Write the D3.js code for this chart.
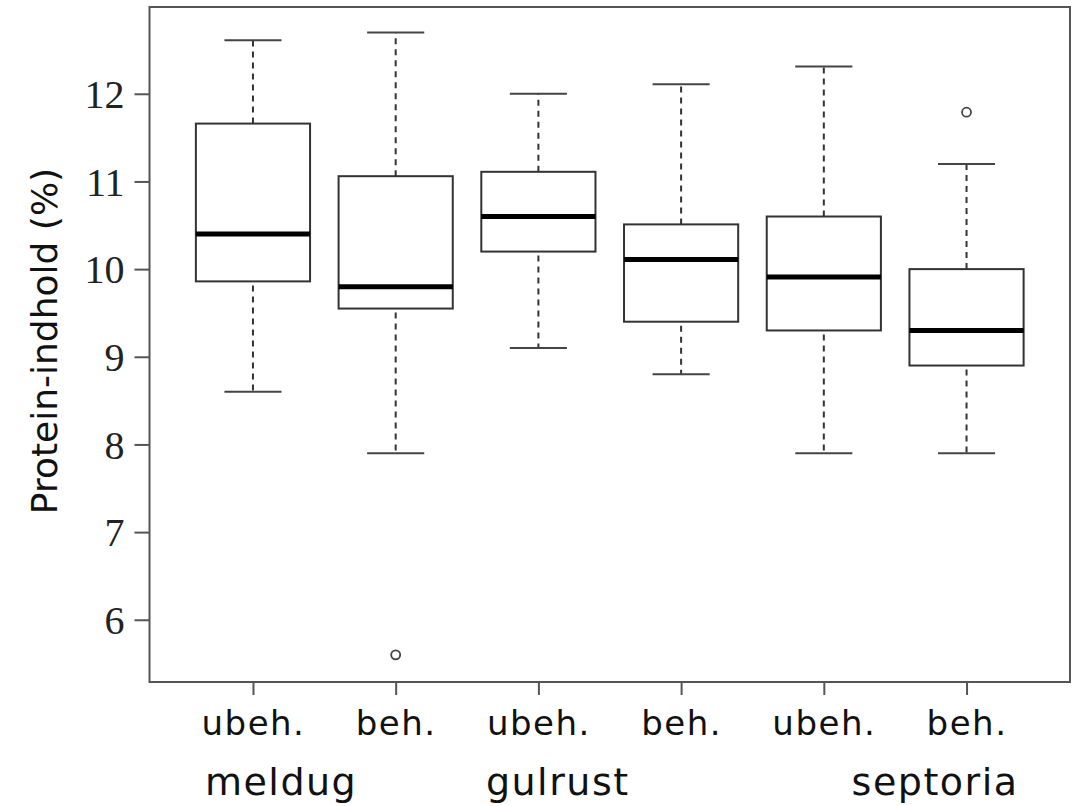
<!DOCTYPE html>
<html>
<head>
<meta charset="utf-8">
<script src="https://cdn.jsdelivr.net/npm/d3@7"></script>
<style>
  body { margin: 0; background: #fff; }
  svg { display: block; }
</style>
</head>
<body>
<div id="chart"></div>
<script>
var treatments = ['ubeh.', 'beh.', 'ubeh.', 'beh.', 'ubeh.', 'beh.'],
  diseases = ['meldug', 'gulrust', 'septoria'],
  whiskerLow = [8.60, 7.90, 9.10, 8.80, 7.90, 7.90],
  q1 = [9.86, 9.55, 10.20, 9.40, 9.30, 8.90],
  medians = [10.40, 9.80, 10.60, 10.11, 9.91, 9.30],
  q3 = [11.66, 11.06, 11.11, 10.51, 10.60, 10.00],
  whiskerHigh = [12.61, 12.70, 12.00, 12.11, 12.31, 11.20],
  outliers = [[], [5.60], [], [], [], [11.79]],
  yTicks = [6, 7, 8, 9, 10, 11, 12]

var width = 1071, height = 806,
  plotL = 149.5, plotR = 1070, plotT = 7, plotB = 682

var svg = d3.select("#chart").append("svg")
  .attr("width", width).attr("height", height)

var idx = d3.range(treatments.length)

var x = d3.scalePoint()
  .domain(idx)
  .range([plotL, plotR])
  .padding(0.725)

var y = d3.scaleLinear()
  .domain([5.29, 12.99])
  .range([plotB, plotT])

var boxW = x.step() * 0.8,
  capW = boxW / 2

// frame
svg.append("rect")
  .attr("x", plotL).attr("y", plotT)
  .attr("width", plotR - plotL).attr("height", plotB - plotT)
  .attr("fill", "none").attr("stroke", "#555").attr("stroke-width", 2)

// y axis
var yAxis = svg.append("g")
  .attr("transform", `translate(${plotL},0)`)
  .call(d3.axisLeft(y).tickValues(yTicks).tickSize(15).tickPadding(10).tickFormat(d3.format("d")))
yAxis.select(".domain").remove()
yAxis.selectAll("line").attr("stroke", "#555").attr("stroke-width", 2)
yAxis.selectAll("text")
  .attr("font-family", "'Liberation Serif', 'Times New Roman', serif")
  .attr("font-size", 40).attr("fill", "#222")
  .attr("dy", "0.34em")

// x axis
var xAxis = svg.append("g")
  .attr("transform", `translate(0,${plotB})`)
  .call(d3.axisBottom(x).tickSize(13).tickPadding(16).tickFormat(function(i){ return treatments[i] }))
xAxis.select(".domain").remove()
xAxis.selectAll("line").attr("stroke", "#555").attr("stroke-width", 2)
xAxis.selectAll("text")
  .attr("font-family", "'DejaVu Sans', sans-serif")
  .attr("font-size", 34).attr("fill", "#111")
  .attr("letter-spacing", 1.5)
  .attr("dy", "0.71em")

// disease group labels
var groupPos = [
  {x: x(0) - 48, anchor: 'start'},
  {x: (x(2) + x(3)) / 2 - 52, anchor: 'middle'},
  {x: x(5) + 52, anchor: 'end'}
]
svg.append("g").selectAll("text")
  .data(diseases)
  .enter().append("text")
  .attr("x", function(d, i){ return groupPos[i].x })
  .attr("y", 795)
  .attr("text-anchor", function(d, i){ return groupPos[i].anchor })
  .attr("font-family", "'DejaVu Sans', sans-serif")
  .attr("font-size", 38).attr("fill", "#111")
  .attr("letter-spacing", 1.5)
  .text(function(d){ return d })

// y title
svg.append("text")
  .attr("transform", "translate(57,341) rotate(-90)")
  .attr("text-anchor", "middle")
  .attr("font-family", "'DejaVu Sans', sans-serif")
  .attr("font-size", 36).attr("fill", "#111")
  .text("Protein-indhold (%)")

// boxes
var boxes = svg.append("g").selectAll("g")
  .data(idx)
  .enter().append("g")

boxes.append("line")
  .attr("x1", function(i){ return x(i) }).attr("x2", function(i){ return x(i) })
  .attr("y1", function(i){ return y(q3[i]) }).attr("y2", function(i){ return y(whiskerHigh[i]) })
  .attr("stroke", "#333").attr("stroke-width", 2).attr("stroke-dasharray", "6,5")

boxes.append("line")
  .attr("x1", function(i){ return x(i) }).attr("x2", function(i){ return x(i) })
  .attr("y1", function(i){ return y(q1[i]) + 4 }).attr("y2", function(i){ return y(whiskerLow[i]) })
  .attr("stroke", "#333").attr("stroke-width", 2).attr("stroke-dasharray", "6,5")

boxes.append("line")
  .attr("x1", function(i){ return x(i) - capW / 2 }).attr("x2", function(i){ return x(i) + capW / 2 })
  .attr("y1", function(i){ return y(whiskerHigh[i]) }).attr("y2", function(i){ return y(whiskerHigh[i]) })
  .attr("stroke", "#444").attr("stroke-width", 2)

boxes.append("line")
  .attr("x1", function(i){ return x(i) - capW / 2 }).attr("x2", function(i){ return x(i) + capW / 2 })
  .attr("y1", function(i){ return y(whiskerLow[i]) }).attr("y2", function(i){ return y(whiskerLow[i]) })
  .attr("stroke", "#444").attr("stroke-width", 2)

boxes.append("rect")
  .attr("x", function(i){ return x(i) - boxW / 2 })
  .attr("width", boxW)
  .attr("y", function(i){ return y(q3[i]) })
  .attr("height", function(i){ return y(q1[i]) - y(q3[i]) })
  .attr("fill", "#fff").attr("stroke", "#333").attr("stroke-width", 2)

boxes.append("line")
  .attr("x1", function(i){ return x(i) - boxW / 2 }).attr("x2", function(i){ return x(i) + boxW / 2 })
  .attr("y1", function(i){ return y(medians[i]) }).attr("y2", function(i){ return y(medians[i]) })
  .attr("stroke", "#000").attr("stroke-width", 5)

boxes.selectAll("circle")
  .data(function(i){ return outliers[i].map(function(v){ return {i: i, v: v} }) })
  .enter().append("circle")
  .attr("cx", function(d){ return x(d.i) })
  .attr("cy", function(d){ return y(d.v) })
  .attr("r", 4.5)
  .attr("fill", "none").attr("stroke", "#444").attr("stroke-width", 1.8)
</script>
</body>
</html>
